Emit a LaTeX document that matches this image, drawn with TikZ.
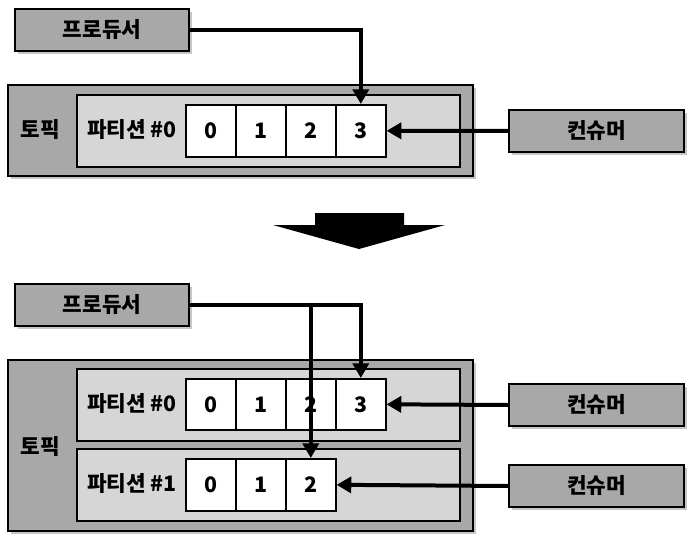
\documentclass[tikz,border=0pt]{standalone}
\usepackage{fontspec}
\setmainfont{Noto Sans CJK KR}
\usetikzlibrary{shadows,arrows.meta,positioning}
\definecolor{outergray}{RGB}{168,168,168}
\definecolor{innergray}{RGB}{214,214,214}
\tikzset{every picture/.style={line width=0.75pt}}
\tikzset{
  box/.style={draw, line width=1.5pt, anchor=north west, inner sep=0pt, font=\bfseries\fontsize{16}{18}\selectfont},
  shadowbox/.style={box, fill=outergray, drop shadow={shadow xshift=2.5pt, shadow yshift=-2.5pt, opacity=0.45}},
  partbox/.style={box, fill=innergray},
  cell/.style={box, fill=white, line width=1.2pt, minimum width=50*0.75pt},
  lbl/.style={font=\bfseries\fontsize{16}{18}\selectfont, inner sep=0pt},
  arr/.style={line width=3pt, -{Triangle[length=11pt,width=12pt]}}
}
\begin{document}
\begin{tikzpicture}[x=0.75pt,y=0.75pt,yscale=-1,xscale=1]
\useasboundingbox (0,0) rectangle (698,538);

% upper topic
\node[shadowbox, minimum width=174*0.75pt, minimum height=42*0.75pt] (prodA) at (14,8) {프로듀서};
\node[shadowbox, minimum width=465*0.75pt, minimum height=91*0.75pt] (topicA) at (7,84) {};
\node[partbox, minimum width=383*0.75pt, minimum height=72*0.75pt] (partA) at (76,94) {};
\foreach \i in {0,...,3}
  \node[cell, minimum height=52*0.75pt] (a\i) at ({185+50*\i},104) {\i};
\node[lbl] (topicAlbl) at (40,130) {토픽};
\node[lbl] (partAlbl) at (132,130) {파티션 \#0};
\node[shadowbox, minimum width=175*0.75pt, minimum height=42*0.75pt] (consA) at (508,109) {컨슈머};

\draw[arr] (prodA.east) -| (a3.north);
\draw[arr] (consA.west) -- (a3.east);

% big arrow
\fill (315,213) -- (404,213) -- (404,225) -- (445,225) -- (359,249) -- (273,225) -- (315,225) -- cycle;

% lower topic
\node[shadowbox, minimum width=174*0.75pt, minimum height=42*0.75pt] (prodB) at (14,283) {프로듀서};
\node[shadowbox, minimum width=465*0.75pt, minimum height=171*0.75pt] (topicB) at (7,359) {};
\node[partbox, minimum width=383*0.75pt, minimum height=72*0.75pt] (partB) at (76,368) {};
\node[partbox, minimum width=383*0.75pt, minimum height=72*0.75pt] (partC) at (76,448) {};
\foreach \i in {0,...,3}
  \node[cell, minimum height=51*0.75pt] (b\i) at ({185+50*\i},378) {\i};
\foreach \i in {0,...,2}
  \node[cell, minimum height=52*0.75pt] (c\i) at ({185+50*\i},458) {\i};
\node[lbl] (topicBlbl) at (40,447) {토픽};
\node[lbl] (partBlbl) at (132,404) {파티션 \#0};
\node[lbl] (partClbl) at (132,484) {파티션 \#1};
\node[shadowbox, minimum width=175*0.75pt, minimum height=42*0.75pt] (consB) at (508,383) {컨슈머};
\node[shadowbox, minimum width=175*0.75pt, minimum height=42*0.75pt] (consC) at (508,464) {컨슈머};

\draw[arr] (prodB.east) -| (b3.north);
\draw[arr] (prodB.east) -| (c2.north);
\draw[arr] (consB.west) -- (b3.east);
\draw[arr] (consC.west) -- (c2.east);

\end{tikzpicture}
\end{document}
